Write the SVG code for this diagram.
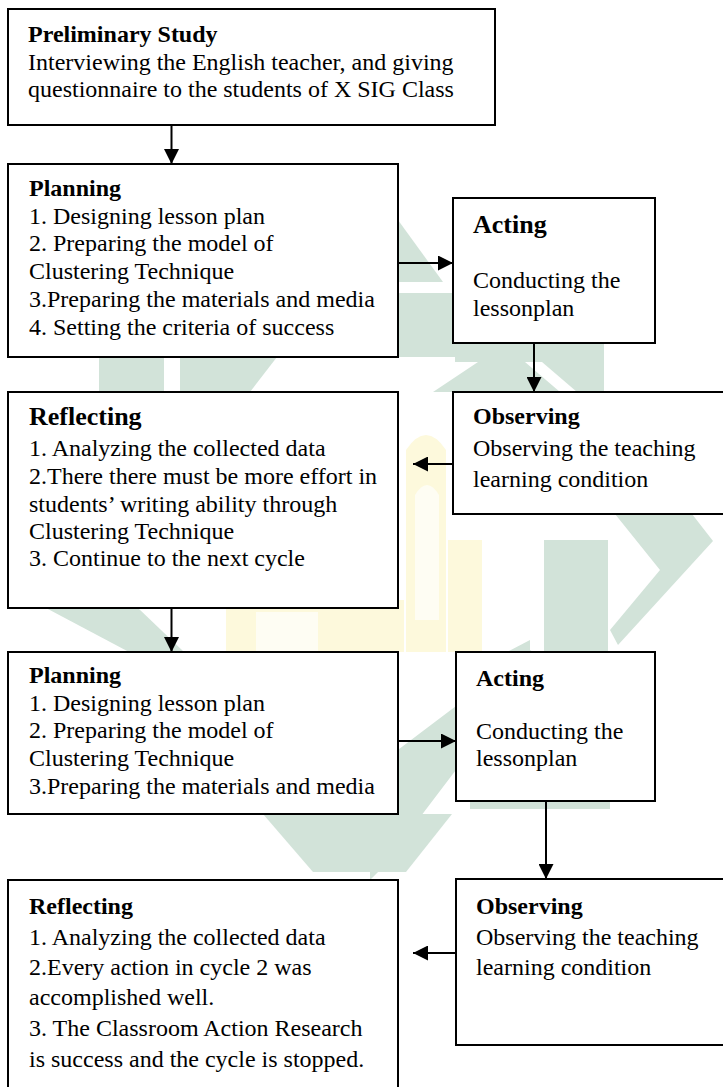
<svg xmlns="http://www.w3.org/2000/svg" width="723" height="1087" viewBox="0 0 723 1087">
  <defs>
    <style>
      .box { fill: #ffffff; stroke: #000000; stroke-width: 2; }
      .t { font-family: "Liberation Serif", "Times New Roman", serif; font-size: 24px; fill: #000000; }
      .b { font-weight: bold; }
      .big { font-size: 26px; }
      .wm { fill: #d2e3d9; stroke: none; }
      .wy { fill: #fdf9dc; stroke: none; }
      .wl { fill: #fefdf3; stroke: none; }
      .conn { stroke: #000000; stroke-width: 2; fill: none; }
    </style>
    <marker id="ah" viewBox="0 0 15 15" refX="15" refY="7.5" markerWidth="15" markerHeight="15" markerUnits="userSpaceOnUse" orient="auto">
      <path d="M0,0 L15,7.5 L0,15 Z" fill="#000000"/>
    </marker>
  </defs>
  <rect x="0" y="0" width="723" height="1087" fill="#ffffff"/>

  <g id="watermark">
    <polygon class="wm" points="398,220 398,282 443,282"/>
    <rect class="wm" x="398" y="293" width="60" height="64"/>
    <rect class="wm" x="455" y="343" width="149" height="19"/>
    <polygon class="wm" points="433,392 478,362 525,362 560,392"/>
    <polygon class="wm" points="542,362 604,362 604,392 577,392"/>
    <rect class="wm" x="99" y="357" width="65" height="35"/>
    <polygon class="wm" points="180,357 277,357 250,392 180,392"/>
    <polygon class="wm" points="46,608 138,608 184,652 129,652"/>
    <rect class="wy" x="226" y="600" width="178" height="52"/>
    <rect class="wl" x="256" y="612" width="62" height="40"/>
    <path class="wy" d="M406,652 L406,450 Q426,420 446,450 L446,652 Z"/>
    <path class="wl" d="M415,620 L415,495 Q427,475 439,495 L439,620 Z"/>
    <rect class="wy" x="448" y="540" width="34" height="112"/>
    <rect class="wm" x="544" y="540" width="64" height="112"/>
    <polygon class="wm" points="615,514 692,514 713,541 618,645 610,630 660,570"/>
    <polygon class="wm" points="507,652 530,640 530,652"/>
    <polygon class="wm" points="370,771 530,650 545,660 465,758 380,870 370,880"/>
    <rect class="wm" x="470" y="801" width="140" height="8"/>
    <polygon class="wm" points="263,814 452,814 406,872 313,872"/>
  </g>

  <g id="connectors">
    <line class="conn" x1="171.5" y1="125" x2="171.5" y2="164" marker-end="url(#ah)"/>
    <line class="conn" x1="398" y1="263" x2="453" y2="263" marker-end="url(#ah)"/>
    <line class="conn" x1="534" y1="343" x2="534" y2="392" marker-end="url(#ah)"/>
    <line class="conn" x1="453" y1="464" x2="413" y2="464" marker-end="url(#ah)"/>
    <line class="conn" x1="171.5" y1="608" x2="171.5" y2="652" marker-end="url(#ah)"/>
    <line class="conn" x1="398" y1="741" x2="456" y2="741" marker-end="url(#ah)"/>
    <line class="conn" x1="546" y1="801" x2="546" y2="879" marker-end="url(#ah)"/>
    <line class="conn" x1="456" y1="953" x2="413" y2="953" marker-end="url(#ah)"/>
  </g>

  <g id="preliminary">
    <rect class="box" x="8" y="9" width="487" height="116"/>
    <text class="t b" x="28" y="42">Preliminary Study</text>
    <text class="t" x="28" y="70">Interviewing the English teacher, and giving</text>
    <text class="t" x="28" y="97">questionnaire to the students of X SIG Class</text>
  </g>

  <g id="planning1">
    <rect class="box" x="8" y="164" width="390" height="193"/>
    <text class="t b" x="29" y="196">Planning</text>
    <text class="t" x="29" y="224">1. Designing lesson plan</text>
    <text class="t" x="29" y="251">2. Preparing the model of</text>
    <text class="t" x="29" y="279">Clustering Technique</text>
    <text class="t" x="29" y="307">3.Preparing the materials and media</text>
    <text class="t" x="29" y="335">4. Setting the criteria of success</text>
  </g>

  <g id="acting1">
    <rect class="box" x="453" y="198" width="202" height="145"/>
    <text class="t b big" x="473" y="233">Acting</text>
    <text class="t" x="473" y="288">Conducting the</text>
    <text class="t" x="473" y="316">lessonplan</text>
  </g>

  <g id="observing1">
    <rect class="box" x="453" y="392" width="290" height="122"/>
    <text class="t b" x="473" y="424">Observing</text>
    <text class="t" x="473" y="456">Observing the teaching</text>
    <text class="t" x="473" y="487">learning condition</text>
  </g>

  <g id="reflecting1">
    <rect class="box" x="8" y="392" width="390" height="216"/>
    <text class="t b big" x="29" y="425">Reflecting</text>
    <text class="t" x="29" y="456">1. Analyzing the collected data</text>
    <text class="t" x="29" y="484">2.There there must be more effort in</text>
    <text class="t" x="29" y="512">students’ writing ability through</text>
    <text class="t" x="29" y="539">Clustering Technique</text>
    <text class="t" x="29" y="566">3. Continue to the next cycle</text>
  </g>

  <g id="planning2">
    <rect class="box" x="8" y="652" width="390" height="162"/>
    <text class="t b" x="29" y="683">Planning</text>
    <text class="t" x="29" y="711">1. Designing lesson plan</text>
    <text class="t" x="29" y="738">2. Preparing the model of</text>
    <text class="t" x="29" y="766">Clustering Technique</text>
    <text class="t" x="29" y="794">3.Preparing the materials and media</text>
  </g>

  <g id="acting2">
    <rect class="box" x="456" y="652" width="199" height="149"/>
    <text class="t b" x="476" y="686">Acting</text>
    <text class="t" x="476" y="739">Conducting the</text>
    <text class="t" x="476" y="766">lessonplan</text>
  </g>

  <g id="observing2">
    <rect class="box" x="456" y="879" width="290" height="166"/>
    <text class="t b" x="476" y="914">Observing</text>
    <text class="t" x="476" y="945">Observing the teaching</text>
    <text class="t" x="476" y="975">learning condition</text>
  </g>

  <g id="reflecting2">
    <rect class="box" x="8" y="880" width="390" height="220"/>
    <text class="t b" x="29" y="914">Reflecting</text>
    <text class="t" x="29" y="945">1. Analyzing the collected data</text>
    <text class="t" x="29" y="975">2.Every action in cycle 2 was</text>
    <text class="t" x="29" y="1005">accomplished well.</text>
    <text class="t" x="29" y="1036">3. The Classroom Action Research</text>
    <text class="t" x="29" y="1067">is success and the cycle is stopped.</text>
  </g>
</svg>
